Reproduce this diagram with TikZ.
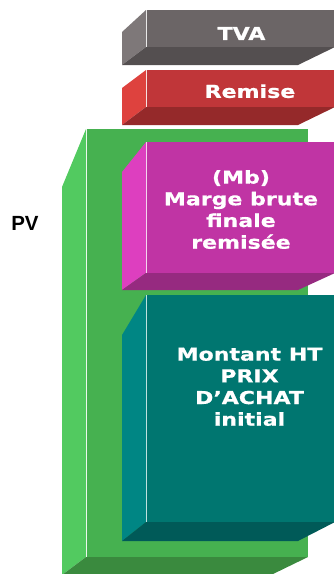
\documentclass[tikz,border=0pt]{standalone}
\usepackage{fontspec}
\newfontfamily\boxfont[FakeStretch=1.24,FakeBold=0.7]{DejaVu Sans}
\newfontfamily\pvfont{Liberation Sans}
\definecolor{tvaF}{RGB}{107,101,102}
\definecolor{tvaL}{RGB}{126,120,121}
\definecolor{tvaB}{RGB}{84,79,80}
\definecolor{remF}{RGB}{192,54,57}
\definecolor{remL}{RGB}{222,66,62}
\definecolor{remB}{RGB}{149,41,42}
\definecolor{grnF}{RGB}{70,177,80}
\definecolor{grnL}{RGB}{82,202,96}
\definecolor{grnB}{RGB}{58,138,62}
\definecolor{magF}{RGB}{192,52,164}
\definecolor{magL}{RGB}{221,63,191}
\definecolor{magB}{RGB}{150,42,128}
\definecolor{tealF}{RGB}{0,118,112}
\definecolor{tealL}{RGB}{0,134,132}
\definecolor{tealB}{RGB}{0,90,88}
% #1 x1, #2 y1, #3 y2, #4 x2, #5 left top y, #6 colour prefix, #7 back bottom y, #8 highlight
\newcommand\blockface[8]{%
  \fill[#6F] (#1,#2) rectangle (#4,#3);
  \fill[#6L] (#1-24,#5) -- (#1,#2) -- (#1,#3) -- (#1-24,#7) -- cycle;
  \fill[#6B] (#1,#3) -- (#4,#3) -- (#4-37,#7) -- (#1-24,#7) -- cycle;
  \draw[#8, line width=1.1pt] (#1+0.6,#2) -- (#1+0.6,#3);
}
\begin{document}
\begin{tikzpicture}[x=1pt,y=-1pt,
  lbl/.style={text=white, inner sep=0pt, align=center,
    font=\boxfont\bfseries\fontsize{17.8}{21.7}\selectfont},
  pvlbl/.style={text=black, inner sep=0pt,
    font=\pvfont\bfseries\fontsize{20.5}{24}\selectfont}]
\useasboundingbox (0,0) rectangle (334,574);
\clip (0,0) rectangle (334,574);
\blockface{146}{10}{47}{335}{32}{tva}{65}{white!85!tvaF}
\blockface{146}{70}{107}{335}{88}{rem}{125}{white!85!remF}
\blockface{86}{129}{557}{308}{187}{grn}{575}{white!90!grnF}
\blockface{146}{142}{273}{335}{172}{mag}{290}{white!80!magF}
\blockface{146}{295}{522}{335}{335}{teal}{541}{white!75!tealL}
\node[lbl] (tva) at (241.5,33.5) {TVA};
\node[lbl] (remise) at (250,91.2) {Remise};
\node[lbl] (mb) at (241,209.5) {(Mb)\\Marge brute\\finale\\remisée};
\node[lbl] (mht) at (249.5,386.8) {Montant HT\\PRIX\\D’ACHAT\\initial};
\node[pvlbl] (pv) at (25,223.5) {PV};
\end{tikzpicture}
\end{document}
